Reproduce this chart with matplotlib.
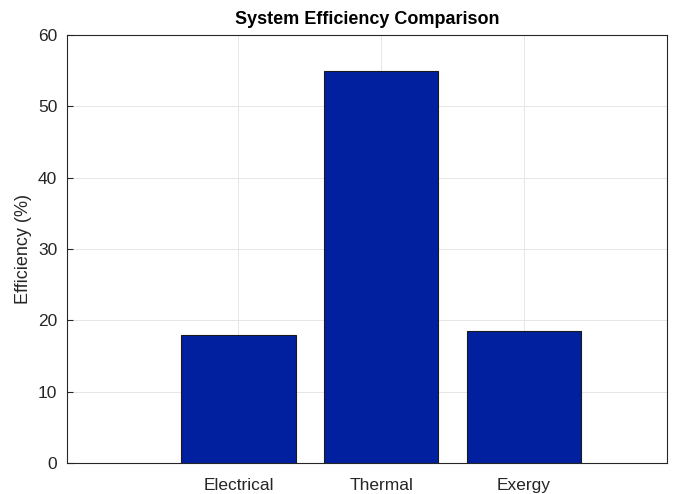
import numpy as np
import matplotlib.pyplot as plt

plt.rcParams['font.family'] = ['Liberation Sans', 'DejaVu Sans']

categories = ['Electrical', 'Thermal', 'Exergy']
efficiency = [18, 55, 18.5]

fig = plt.figure(figsize=(6.84, 4.94), dpi=100)
ax = fig.add_axes([0.098, 0.063, 0.877, 0.866])

x = np.arange(1, len(categories) + 1)
ax.bar(x, efficiency, width=0.8, color='#00209F', edgecolor='#1a1a1a', linewidth=0.8, zorder=3)

ax.set_xlim(-0.2, 4.0)
ax.set_ylim(0, 60)
ax.set_xticks(x)
ax.set_xticklabels(categories)
ax.set_yticks(np.arange(0, 61, 10))
ax.tick_params(direction='in', labelsize=12.5, colors='#262626', length=4)
ax.tick_params(axis='x', pad=11)
ax.tick_params(axis='y', pad=7)
ax.grid(True, color='#e6e6e6', linewidth=0.7, zorder=0)
for s in ax.spines.values():
    s.set_color('#262626')
    s.set_linewidth(0.8)

ax.set_ylabel('Efficiency (%)', fontsize=13, color='#262626', labelpad=4)
ax.set_title('System Efficiency Comparison', fontsize=13, fontweight='bold', pad=8)

fig.savefig('out.png', dpi=100)
